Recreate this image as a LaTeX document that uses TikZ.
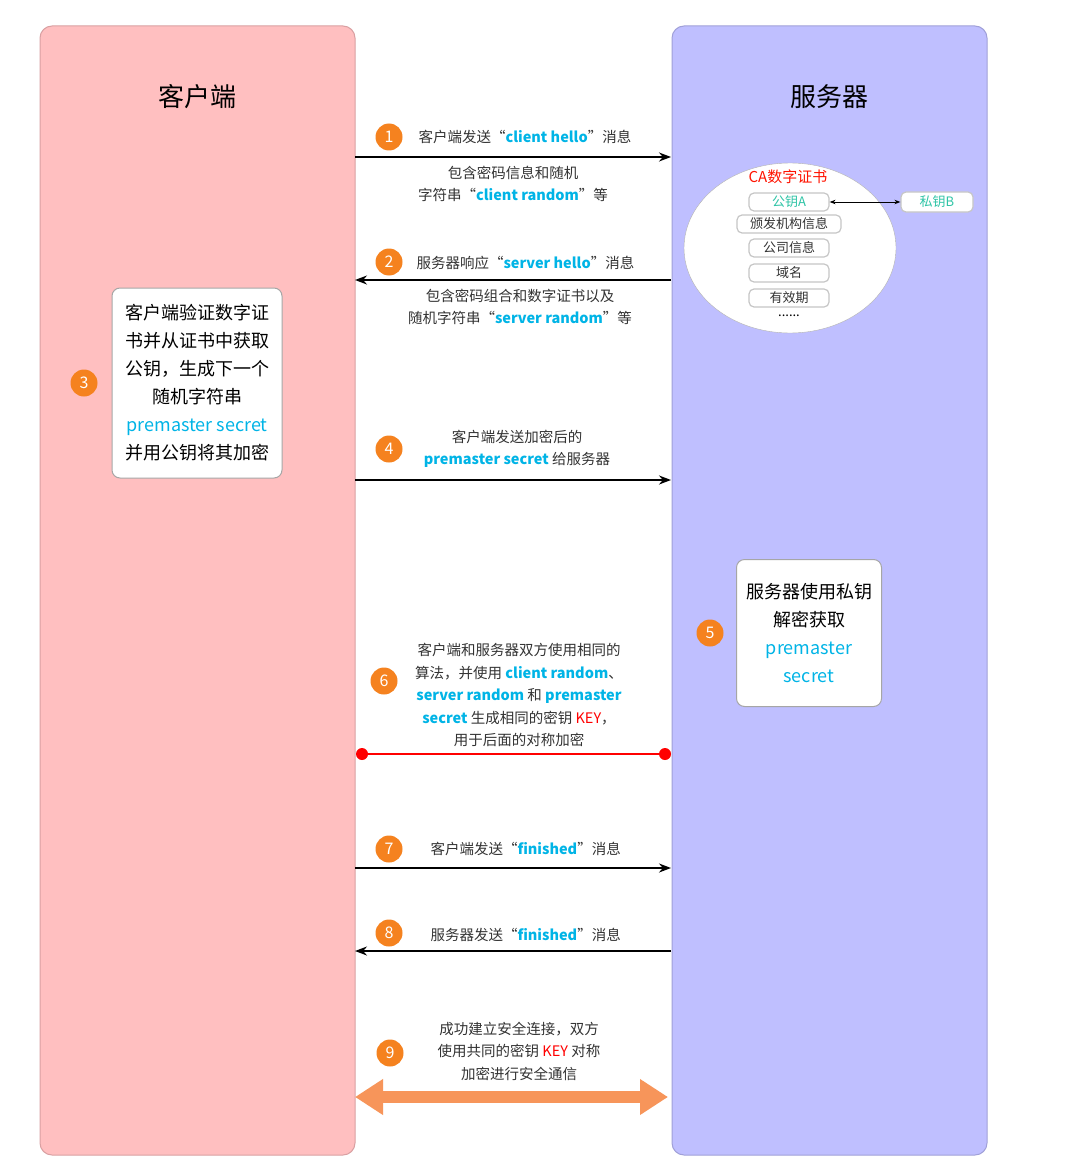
\documentclass[tikz,border=0pt]{standalone}
\usepackage{fontspec}
\setmainfont{Noto Sans CJK SC}
\usetikzlibrary{arrows.meta}
\definecolor{pinkf}{HTML}{FFBFC0}
\definecolor{pinkd}{HTML}{D9A0A2}
\definecolor{bluef}{HTML}{BFBFFF}
\definecolor{blued}{HTML}{A0A0D8}
\definecolor{cy}{HTML}{00B4E6}
\definecolor{tl}{HTML}{2EC4A6}
\definecolor{org}{HTML}{F5821F}
\definecolor{big}{HTML}{F7955A}
\definecolor{txt}{HTML}{333333}
\newcommand{\cc}[1]{\textcolor{cy}{\bfseries #1}}
\newcommand{\cn}[1]{\textcolor{cy}{#1}}
\begin{document}
\begin{tikzpicture}[x=1pt,y=-1pt,
  num/.style={circle,fill=org,text=white,inner sep=0pt,minimum size=27pt,font=\fontsize{16}{16}\selectfont},
  lbl/.style={text=txt,align=center,font=\fontsize{14.5}{22.5}\selectfont},
  msg/.style={-{Stealth[length=12pt,width=9pt]},line width=1.6pt},
  item/.style={draw=gray!45,line width=1.2pt,fill=white,rounded corners=5pt,minimum height=18pt,inner sep=2pt,font=\fontsize{13}{13}\selectfont,text=txt},
  bigbox/.style={draw=gray!70,fill=white,rounded corners=8pt,align=center,font=\fontsize{18}{28}\selectfont,line width=1pt}]
\useasboundingbox (0,0) rectangle (1080,1169);
\fill[white] (0,0) rectangle (1080,1169);
\draw[fill=pinkf,draw=pinkd,rounded corners=12pt,line width=1pt] (40,26) rectangle (355,1155);
\draw[fill=bluef,draw=blued,rounded corners=12pt,line width=1pt] (672,26) rectangle (987,1155);
\node[font=\fontsize{26}{26}\selectfont] (tc) at (197,97) {客户端};
\node[font=\fontsize{26}{26}\selectfont] (ts) at (829,97) {服务器};
\coordinate (L1) at (355,157); \coordinate (R1) at (671,157);
\coordinate (L2) at (355,280); \coordinate (R2) at (671,280);
\coordinate (L4) at (355,480); \coordinate (R4) at (671,480);
\coordinate (L7) at (355,868); \coordinate (R7) at (671,868);
\coordinate (L8) at (355,951); \coordinate (R8) at (671,951);
% 1
\draw[msg] (L1) -- (R1);
\node[num] (n1) at (389,137) {1};
\node[lbl,anchor=west] (m1) at (415,137) {客户端发送“\cc{client hello}”消息};
\node[lbl] (m1b) at (513,184) {包含密码信息和随机\\字符串“\cc{client random}”等};
% 2
\draw[msg] (R2) -- (L2);
\node[num] (n2) at (389,262) {2};
\node[lbl,anchor=west] (m2) at (413,263) {服务器响应“\cc{server hello}”消息};
\node[lbl] (m2b) at (520,307) {包含密码组合和数字证书以及\\随机字符串“\cc{server random}”等};
% CA
\draw[fill=white,draw=gray!60] (790,248) ellipse (106 and 85);
\node[text=red!85!orange,font=\fontsize{15}{15}\selectfont] (ca) at (788,177) {CA数字证书};
\node[item,minimum width=80pt,text=tl] (pa) at (789,202) {公钥A};
\node[item,minimum width=104pt] (i2) at (789,224) {颁发机构信息};
\node[item,minimum width=80pt] (i3) at (789,248) {公司信息};
\node[item,minimum width=80pt] (i4) at (789,273) {域名};
\node[item,minimum width=80pt] (i5) at (789,298) {有效期};
\node[font=\fontsize{13}{13}\selectfont] (dots) at (789,316) {......};
\node[item,minimum width=72pt,minimum height=20pt,text=tl] (pb) at (937,202) {私钥B};
\draw[{Stealth[length=6pt]}-{Stealth[length=6pt]},line width=1pt] (pa.east) -- (pb.west);
% 3
\node[bigbox,minimum width=170pt,minimum height=190pt] (b3) at (197,383) {客户端验证数字证\\书并从证书中获取\\公钥，生成下一个\\随机字符串\\\cn{premaster secret}\\并用公钥将其加密};
\node[num] (n3) at (84,383) {3};
% 4
\draw[msg] (L4) -- (R4);
\node[num] (n4) at (389,449) {4};
\node[lbl] (m4) at (517,449) {客户端发送加密后的\\\cc{premaster secret} 给服务器};
% 5
\node[bigbox,minimum width=145pt,minimum height=147pt] (b5) at (809,633) {服务器使用私钥\\解密获取\\\cn{premaster}\\\cn{secret}};
\node[num] (n5) at (710,633) {5};
% 6
\node[num] (n6) at (384,681) {6};
\node[lbl] (m6) at (519,695) {客户端和服务器双方使用相同的\\算法，并使用 \cc{client random}、\\\cc{server random} 和 \cc{premaster}\\\cc{secret} 生成相同的密钥 \textcolor{red}{KEY}，\\用于后面的对称加密};
\node[circle,fill=red,inner sep=0pt,minimum size=12pt] (d1) at (362,754) {};
\node[circle,fill=red,inner sep=0pt,minimum size=12pt] (d2) at (665,754) {};
\draw[red,line width=2pt] (d1) -- (d2);
% 7
\draw[msg] (L7) -- (R7);
\node[num] (n7) at (389,849) {7};
\node[lbl,anchor=west] (m7) at (427,849) {客户端发送“\cc{finished}”消息};
% 8
\draw[msg] (R8) -- (L8);
\node[num] (n8) at (389,933) {8};
\node[lbl,anchor=west] (m8) at (427,935) {服务器发送“\cc{finished}”消息};
% 9
\node[num] (n9) at (390,1053) {9};
\node[lbl] (m9) at (519,1051) {成功建立安全连接，双方\\使用共同的密钥 \textcolor{red}{KEY} 对称\\加密进行安全通信};
\coordinate (L9) at (355,1097); \coordinate (R9) at (668,1097);
\draw[big,line width=12pt,{Triangle[length=28pt,width=34pt]}-{Triangle[length=28pt,width=34pt]}] (L9) -- (R9);
\end{tikzpicture}
\end{document}
